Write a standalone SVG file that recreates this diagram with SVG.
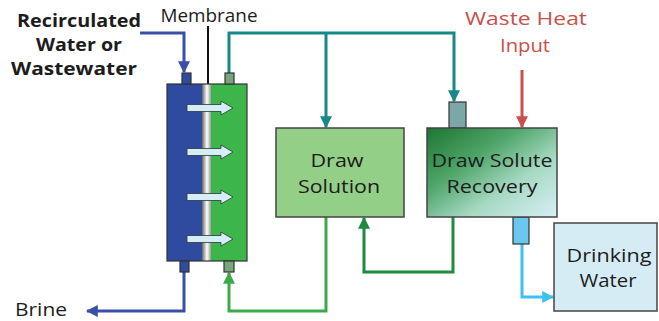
<svg xmlns="http://www.w3.org/2000/svg" width="659" height="321" viewBox="0 0 659 321">
<style>
text{font-family:"Open Sans","Liberation Sans",sans-serif;fill:#1c1c1c;font-size:18px}
.b{font-weight:bold;font-size:18px}
.red{fill:#c8504a;font-size:19px}
.box{stroke:#444;stroke-width:1.5}
.port{stroke:#333;stroke-width:1.2}
.ln{fill:none;stroke-width:3;stroke-linejoin:miter}
.flow{fill:#d4eef8;stroke:#333;stroke-width:0.8}
</style>
<defs>
<linearGradient id="rec" x1="0" y1="0" x2="1" y2="1">
<stop offset="0" stop-color="#1d7632"/>
<stop offset="0.35" stop-color="#4fa56a"/>
<stop offset="0.65" stop-color="#a6d9c2"/>
<stop offset="1" stop-color="#d8eef7"/>
</linearGradient>
<linearGradient id="mem" x1="0" y1="0" x2="1" y2="0">
<stop offset="0" stop-color="#666"/>
<stop offset="0.55" stop-color="#fff"/>
<stop offset="1" stop-color="#999"/>
</linearGradient>
<marker id="aBlue" viewBox="0 0 10 10" refX="9" refY="5" markerWidth="4" markerHeight="4" orient="auto"><path d="M0,0L10,5L0,10z" fill="#3a4fa8"/></marker>
<marker id="aTeal" viewBox="0 0 10 10" refX="9" refY="5" markerWidth="4" markerHeight="4" orient="auto"><path d="M0,0L10,5L0,10z" fill="#168886"/></marker>
<marker id="aDk" viewBox="0 0 10 10" refX="9" refY="5" markerWidth="4" markerHeight="4" orient="auto"><path d="M0,0L10,5L0,10z" fill="#1e8a3e"/></marker>
<marker id="aGr" viewBox="0 0 10 10" refX="9" refY="5" markerWidth="4" markerHeight="4" orient="auto"><path d="M0,0L10,5L0,10z" fill="#3aaa4a"/></marker>
<marker id="aLb" viewBox="0 0 10 10" refX="9" refY="5" markerWidth="4" markerHeight="4" orient="auto"><path d="M0,0L10,5L0,10z" fill="#3fc0f0"/></marker>
<marker id="aRed" viewBox="0 0 10 10" refX="9" refY="5" markerWidth="4" markerHeight="4" orient="auto"><path d="M0,0L10,5L0,10z" fill="#c8504a"/></marker>
<marker id="aBk" viewBox="0 0 10 10" refX="9" refY="5" markerWidth="5" markerHeight="5" orient="auto"><path d="M0,0L10,5L0,10z" fill="#111"/></marker>
<path id="fa" d="M0,-3.5H34V-7L46,0L34,7V3.5H0Z"/>
</defs>

<g id="connectors">
<path class="ln" d="M140,33H184V72" stroke="#3a4fa8" marker-end="url(#aBlue)"/>
<path class="ln" d="M184,272V311H87" stroke="#3a4fa8" marker-end="url(#aBlue)"/>
<path class="ln" d="M229,73V33H454V101" stroke="#168886" marker-end="url(#aTeal)"/>
<path class="ln" d="M326,33V127" stroke="#168886" marker-end="url(#aTeal)"/>
<path class="ln" d="M453,217V272H364V218" stroke="#1e8a3e" marker-end="url(#aDk)"/>
<path class="ln" d="M326,217V311H229V273" stroke="#3aaa4a" marker-end="url(#aGr)"/>
<path class="ln" d="M522,244V297H553" stroke="#3fc0f0" marker-end="url(#aLb)"/>
<path class="ln" d="M522,70V127" stroke="#c8504a" marker-end="url(#aRed)"/>
<path fill="none" stroke="#111" stroke-width="2" d="M208,26V98" marker-end="url(#aBk)"/>
</g>

<g id="module">
<rect x="167" y="84" width="36" height="177" fill="#2f4ba0"/>
<rect x="210" y="84" width="37" height="177" fill="#3cb54a"/>
<rect x="202" y="84" width="9" height="177" fill="url(#mem)"/>
<rect x="167" y="84" width="80" height="177" fill="none" stroke="#333" stroke-width="1.2"/>
<rect class="port" x="182" y="73" width="9" height="11" fill="#2f4ba0"/>
<rect class="port" x="225" y="73" width="9" height="11" fill="#7aa57c"/>
<rect class="port" x="180" y="261" width="9" height="11" fill="#2f4ba0"/>
<rect class="port" x="224" y="261" width="10" height="11" fill="#7aa57c"/>
<use href="#fa" class="flow" transform="translate(187,108)"/>
<use href="#fa" class="flow" transform="translate(187,152)"/>
<use href="#fa" class="flow" transform="translate(187,197)"/>
<use href="#fa" class="flow" transform="translate(187,239)"/>
</g>

<g id="draw-solution">
<rect class="box" x="276" y="128" width="128" height="89" fill="#94cf88"/>
<text x="337" y="167" text-anchor="middle" textLength="53" lengthAdjust="spacingAndGlyphs">Draw</text>
<text x="339" y="193" text-anchor="middle" textLength="82" lengthAdjust="spacingAndGlyphs">Solution</text>
</g>

<g id="recovery">
<rect class="port" x="449" y="102" width="17" height="26" fill="#7aa8a8"/>
<rect class="port" x="513" y="217" width="16" height="27" fill="#6ac8ee"/>
<rect class="box" x="427" y="128" width="130" height="89" fill="url(#rec)"/>
<text x="492" y="167" text-anchor="middle" textLength="121" lengthAdjust="spacingAndGlyphs">Draw Solute</text>
<text x="492" y="193" text-anchor="middle" textLength="91" lengthAdjust="spacingAndGlyphs">Recovery</text>
</g>

<g id="drinking-water">
<rect class="box" x="554" y="223" width="103" height="88" fill="#d6ecf5"/>
<text x="609" y="262" text-anchor="middle" textLength="85" lengthAdjust="spacingAndGlyphs">Drinking</text>
<text x="608" y="287" text-anchor="middle" textLength="57" lengthAdjust="spacingAndGlyphs">Water</text>
</g>

<g id="labels">
<text class="b" x="79" y="27" text-anchor="middle" textLength="124" lengthAdjust="spacingAndGlyphs">Recirculated</text>
<text class="b" x="79" y="51" text-anchor="middle" textLength="86" lengthAdjust="spacingAndGlyphs">Water or</text>
<text class="b" x="74" y="75" text-anchor="middle" textLength="126" lengthAdjust="spacingAndGlyphs">Wastewater</text>
<text x="209" y="22" text-anchor="middle" textLength="97" lengthAdjust="spacingAndGlyphs">Membrane</text>
<text class="red" x="526" y="25" text-anchor="middle" textLength="122" lengthAdjust="spacingAndGlyphs">Waste Heat</text>
<text class="red" x="525" y="52" text-anchor="middle" textLength="50" lengthAdjust="spacingAndGlyphs">Input</text>
<text x="15" y="316" font-size="17" textLength="52" lengthAdjust="spacingAndGlyphs">Brine</text>
</g>
</svg>
